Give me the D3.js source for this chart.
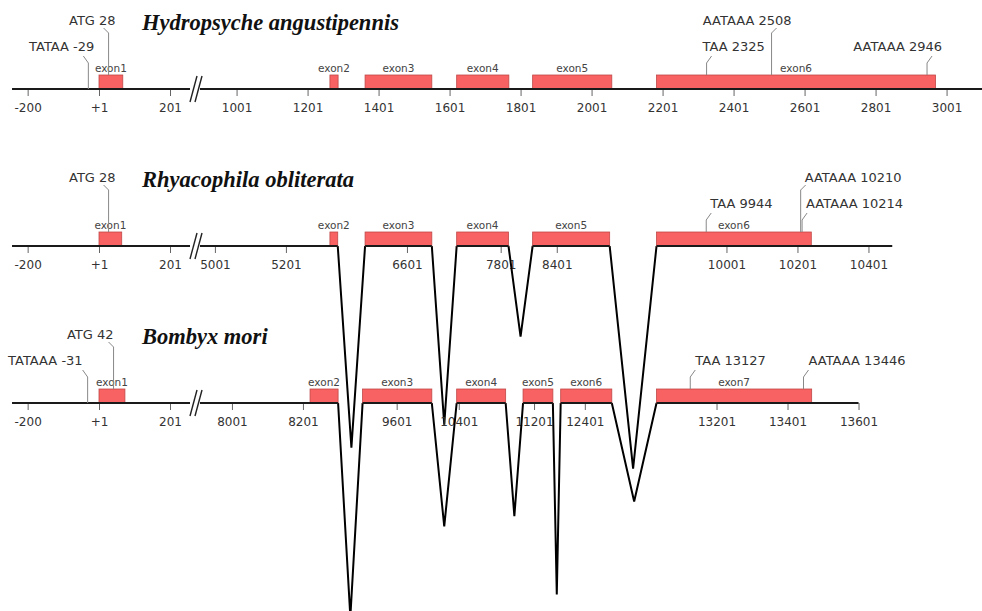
<!DOCTYPE html>
<html>
<head>
<meta charset="utf-8">
<script src="https://cdn.jsdelivr.net/npm/d3@7"></script>
<style>
  body { margin: 0; background: #fff; }
  svg { display: block; }
</style>
</head>
<body>
<div id="chart"></div>
<script>
// ---- data: bp positions ----
const speciesNames = ['Hydropsyche angustipennis', 'Rhyacophila obliterata', 'Bombyx mori'];

const hyExons = [[1, 68], [1264, 1287], [1363, 1551], [1621, 1768], [1835, 2058], [2184, 2970]];
const rhExons = [[1, 65], [5325, 5347], [6483, 6671], [7677, 7823], [8333, 8550], [9804, 10240]];
const bmExons = [[1, 74], [8221, 8300], [9505, 9700], [10395, 10533], [11170, 11254], [12333, 12477], [13032, 13469]];

const hyTicks = [-200, 1, 201, 1001, 1201, 1401, 1601, 1801, 2001, 2201, 2401, 2601, 2801, 3001];
const rhTicks = [-200, 1, 201, 5001, 5201, 6601, 7801, 8401, 10001, 10201, 10401];
const bmTicks = [-200, 1, 201, 8001, 8201, 9601, 10401, 11201, 12401, 13201, 13401, 13601];

const hySites = [['TATAA', -29], ['ATG', 28], ['TAA', 2325], ['AATAAA', 2508], ['AATAAA', 2946]];
const rhSites = [['ATG', 28], ['TAA', 9944], ['AATAAA', 10210], ['AATAAA', 10214]];
const bmSites = [['TATAAA', -31], ['ATG', 42], ['TAA', 13127], ['AATAAA', 13446]];

// drawn extent of each axis (bp)
const hyRange = [-244, 3110];
const rhRange = [-244, 10468];
const bmRange = [-244, 13601];

// ---- layout ----
const width = 982, height = 611;
const K = 0.355;            // px per bp, same for all rows
const plusOneX = 99;
const breakX = [190, 200];
const hyBreakBp = 898;      // first Hydropsyche bp drawn right of the break
const axisY = [89, 246, 403];
const exonH = 14;

// [bp in this gene, Hydropsyche bp it is lined up under], one per block
const rhAlign = [[1, 1], [5325, 1264], [6483, 1363], [7677, 1621], [8333, 1835], [9804, 2184]];
const bmAlign = [[1, 1], [8300, 1287], [9700, 1551], [10395, 1621], [11170, 1808], [12477, 2058], [13032, 2184]];

// label placement per site: [tier, elbow direction, text-anchor, dx]
const hyPlace = [[1, -1, 'end', 6], [2, -1, 'end', 7], [1, 1, 'start', -4], [2, 1, 'end', 20], [1, 1, 'end', 15]];
const rhPlace = [[2, -1, 'end', 7], [1, 1, 'start', 4], [2, 1, 'start', 4], [1, 1, 'start', 4]];
const bmPlace = [[1, -1, 'end', -5], [2, -1, 'end', 0], [1, 1, 'start', 5], [1, 1, 'start', 5]];

const svg = d3.select('#chart').append('svg')
  .attr('width', width)
  .attr('height', height);

svg.append('rect').attr('width', width).attr('height', height).attr('fill', '#fff');

const leftEnd = 1 + (breakX[0] - plusOneX) / K;

// reference scale (Hydropsyche), one break
const ref = d3.scaleLinear()
  .domain([hyRange[0], leftEnd, hyBreakBp, hyRange[1]])
  .range([plusOneX + (hyRange[0] - 1) * K, breakX[0], breakX[1], breakX[1] + (hyRange[1] - hyBreakBp) * K]);

// intron depth for the V's
const depth = d3.scaleLinear().domain([0, 1000]).range([0, 1000 * K / 2]);

function buildBlocks(exons, range, align) {
  if (!align) return [[range[0], leftEnd], [hyBreakBp, range[1]]];
  const blocks = exons.slice(1).map(e => e.slice());
  blocks[blocks.length - 1][1] = range[1];
  blocks[0][0] = align[1][0] - (ref(align[1][1]) - breakX[1]) / K;
  blocks.unshift([range[0], leftEnd]);
  return blocks;
}

function buildScale(blocks, align) {
  if (!align) return ref;
  const domain = [], rng = [];
  blocks.forEach(([lo, hi], i) => {
    const x0 = ref(align[i][1]) - (align[i][0] - lo) * K;
    domain.push(lo, hi);
    rng.push(x0, x0 + (hi - lo) * K);
  });
  return d3.scaleLinear().domain(domain).range(rng);
}

const rows = [
  { exons: hyExons, ticks: hyTicks, sites: hySites, range: hyRange, align: null, place: hyPlace },
  { exons: rhExons, ticks: rhTicks, sites: rhSites, range: rhRange, align: rhAlign, place: rhPlace },
  { exons: bmExons, ticks: bmTicks, sites: bmSites, range: bmRange, align: bmAlign, place: bmPlace },
];

rows.forEach((row, r) => {
  const y0 = axisY[r];
  const blocks = buildBlocks(row.exons, row.range, row.align);
  const x = buildScale(blocks, row.align);
  const g = svg.append('g');

  // title
  g.append('text')
    .attr('x', 142)
    .attr('y', y0 - 59)
    .attr('font-family', '"Liberation Serif", "Times New Roman", serif')
    .attr('font-weight', 'bold')
    .attr('font-style', 'italic')
    .attr('font-size', '22.5px')
    .attr('fill', '#111')
    .text(speciesNames[r]);

  // ticks
  const axis = g.append('g')
    .attr('transform', `translate(0,${y0})`)
    .call(d3.axisBottom(x).tickValues(row.ticks).tickSize(7).tickPadding(7)
      .tickFormat(d => d === 1 ? '+1' : d));
  axis.select('.domain').remove();
  axis.selectAll('line').attr('stroke', '#666');
  axis.selectAll('text')
    .attr('font-family', '"DejaVu Sans", sans-serif')
    .attr('font-size', '12px')
    .attr('fill', '#333');

  // introns as V's
  const introns = blocks.slice(1, -1).map((b, i) => [b[1], blocks[i + 2][0]]);
  g.selectAll('.intron')
    .data(introns)
    .join('path')
    .attr('d', d => {
      const xa = x(d[0]), xb = x(d[1]);
      return `M${xa},${y0}L${(xa + xb) / 2},${y0 + depth(d[1] - d[0])}L${xb},${y0}`;
    })
    .attr('fill', 'none')
    .attr('stroke', '#000')
    .attr('stroke-width', 2)
    .attr('stroke-linejoin', 'miter');

  // exons
  g.selectAll('.exon')
    .data(row.exons)
    .join('rect')
    .attr('x', d => x(d[0]))
    .attr('y', y0 - exonH)
    .attr('width', d => x(d[1]) - x(d[0]))
    .attr('height', exonH)
    .attr('fill', '#f86262')
    .attr('stroke', '#c04848')
    .attr('stroke-width', 0.8);

  g.selectAll('.exlab')
    .data(row.exons)
    .join('text')
    .attr('x', d => (x(d[0]) + x(d[1])) / 2)
    .attr('y', y0 - exonH - 3)
    .attr('text-anchor', 'middle')
    .attr('font-family', '"DejaVu Sans", sans-serif')
    .attr('font-size', '10.5px')
    .attr('fill', '#444')
    .text((d, i) => `exon${i + 1}`);

  // axis segments, on top of exon bottoms
  g.selectAll('.seg')
    .data(blocks)
    .join('line')
    .attr('x1', d => x(d[0]))
    .attr('x2', d => x(d[1]))
    .attr('y1', y0).attr('y2', y0)
    .attr('stroke', '#1a1a1a')
    .attr('stroke-width', 2);

  // break marks
  [breakX[0], breakX[0] + 5].forEach(bx => {
    g.append('line')
      .attr('x1', bx).attr('y1', y0 + 13)
      .attr('x2', bx + 7).attr('y2', y0 - 13)
      .attr('stroke', '#222')
      .attr('stroke-width', 1.4);
  });

  // site callouts
  row.sites.forEach(([name, pos], i) => {
    const [tier, dir, anchor, dx] = row.place[i];
    const sx = x(pos);
    const inExon = row.exons.some(e => pos >= e[0] && pos <= e[1]);
    const ya = inExon ? y0 - exonH : y0;
    const elbow = tier === 1 ? y0 - 26 : y0 - 56;
    const tip = tier === 1 ? y0 - 33 : y0 - 61;
    const base = tier === 1 ? y0 - 38 : y0 - 64;
    g.append('path')
      .attr('d', `M${sx},${ya}V${elbow}L${sx + dir * 5},${tip}`)
      .attr('fill', 'none')
      .attr('stroke', '#888')
      .attr('stroke-width', 1);
    g.append('text')
      .attr('x', sx + dx)
      .attr('y', base)
      .attr('text-anchor', anchor)
      .attr('font-family', '"DejaVu Sans", sans-serif')
      .attr('font-size', '13px')
      .attr('fill', '#333')
      .text(`${name} ${pos}`);
  });
});
</script>
</body>
</html>
